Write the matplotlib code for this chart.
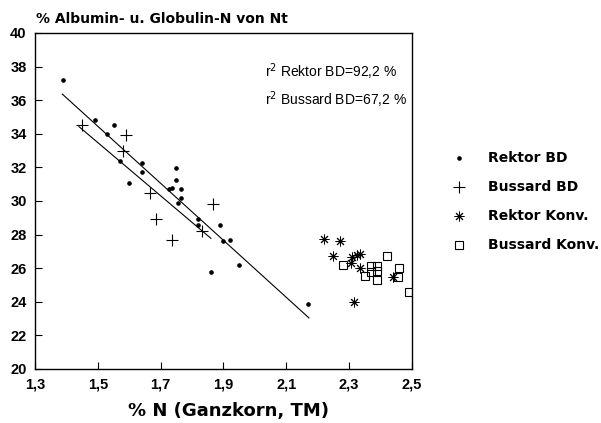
import numpy as np
import matplotlib
matplotlib.use('Agg')
import matplotlib.pyplot as plt

plt.rcParams['font.family'] = ['Liberation Sans', 'DejaVu Sans']

# Rektor BD (Punkte)
rektor_bd_x = [1.39, 1.49, 1.55, 1.53, 1.57, 1.64, 1.64, 1.60, 1.75, 1.75, 1.725, 1.735,
               1.765, 1.765, 1.755, 1.82, 1.82, 1.89, 1.90, 1.92, 1.95, 1.86, 2.17]
rektor_bd_y = [37.2, 34.8, 34.55, 34.0, 32.4, 32.25, 31.7, 31.1, 31.95, 31.25, 30.7, 30.75,
               30.7, 30.2, 29.9, 28.95, 28.6, 28.55, 27.6, 27.7, 26.2, 25.8, 23.85]

# Bussard BD (Kreuze)
bussard_bd_x = [1.45, 1.59, 1.58, 1.665, 1.685, 1.735, 1.865, 1.83]
bussard_bd_y = [34.55, 33.9, 32.95, 30.5, 28.95, 27.65, 29.8, 28.2]

# Rektor Konv. (Sterne)
rektor_konv_x = [2.22, 2.27, 2.25, 2.31, 2.325, 2.335, 2.305, 2.335, 2.44, 2.315]
rektor_konv_y = [27.75, 27.6, 26.75, 26.65, 26.8, 26.85, 26.3, 26.0, 25.5, 24.0]

# Bussard Konv. (Quadrate)
bussard_konv_x = [2.28, 2.42, 2.37, 2.39, 2.37, 2.39, 2.35, 2.39, 2.46, 2.455, 2.49]
bussard_konv_y = [26.2, 26.7, 26.15, 26.15, 25.8, 25.85, 25.55, 25.3, 26.0, 25.5, 24.6]

# Regressionsgeraden (Achsenabschnitt, Steigung, x-Bereich)
rektor_fit = (59.9, -16.97, 1.387, 2.172)
bussard_fit = (57.22, -15.83, 1.44, 1.86)

x_ticks = [1.3, 1.5, 1.7, 1.9, 2.1, 2.3, 2.5]
x_labels = ['1,3', '1,5', '1,7', '1,9', '2,1', '2,3', '2,5']
y_ticks = list(range(20, 41, 2))

wide = ['DejaVu Sans']

dot = dict(marker='o', color='black', markersize=2.3, linestyle='none')
plus = dict(marker='+', color='black', markersize=8, markeredgewidth=0.8, linestyle='none')
star = dict(marker=(8, 2, 0), color='black', markersize=7, markeredgewidth=0.7, linestyle='none')
square = dict(marker='s', markerfacecolor='none', markeredgecolor='black', markersize=6,
              markeredgewidth=0.8, linestyle='none')

fig = plt.figure(figsize=(6.01, 4.23), dpi=100)
ax = fig.add_axes([35 / 601, 1 - 369 / 423, 377 / 601, 336 / 423])

ax.plot(rektor_bd_x, rektor_bd_y, **dot)
ax.plot(bussard_bd_x, bussard_bd_y, **plus)
ax.plot(rektor_konv_x, rektor_konv_y, **star)
ax.plot(bussard_konv_x, bussard_konv_y, **square)

for a, b, x0, x1 in (rektor_fit, bussard_fit):
    xs = np.array([x0, x1])
    ax.plot(xs, a + b * xs, color='black', linewidth=0.8)

ax.set_xlim(1.3, 2.5)
ax.set_ylim(20, 40)
ax.set_xticks(x_ticks)
ax.set_xticklabels(x_labels)
ax.set_yticks(y_ticks)
ax.tick_params(direction='in', length=5, width=0.8, labelsize=10.5, pad=6)
for lab in ax.get_xticklabels() + ax.get_yticklabels():
    lab.set_fontweight('bold')
for s in ax.spines.values():
    s.set_linewidth(1.0)

fig.text(229 / 601, 1 - 411 / 423, '% N (Ganzkorn, TM)', fontsize=13, fontweight='bold',
         family=wide, va='center', ha='center')
fig.text(36 / 601, 1 - 19 / 423, '% Albumin- u. Globulin-N von Nt', fontsize=10,
         fontweight='bold', family=wide, va='center', ha='left')

ax.text(0.61, 0.885, r'r$^2$ Rektor BD=92,2 %', transform=ax.transAxes, fontsize=10,
        va='center', ha='left')
ax.text(0.61, 0.80, r'r$^2$ Bussard BD=67,2 %', transform=ax.transAxes, fontsize=10,
        va='center', ha='left')

# Legende
leg_names = ['Rektor BD', 'Bussard BD', 'Rektor Konv.', 'Bussard Konv.']
leg_y = [158, 187, 216, 245]
lax = fig.add_axes([0, 0, 1, 1])
lax.set_xlim(0, 601)
lax.set_ylim(423, 0)
lax.axis('off')
for style, yy in zip([dot, plus, star, square], leg_y):
    lax.plot([459], [yy], **style)
for name, yy in zip(leg_names, leg_y):
    lax.text(488, yy, name, fontsize=10, fontweight='bold', family=wide, va='center', ha='left')

fig.savefig('out.png', dpi=100)
